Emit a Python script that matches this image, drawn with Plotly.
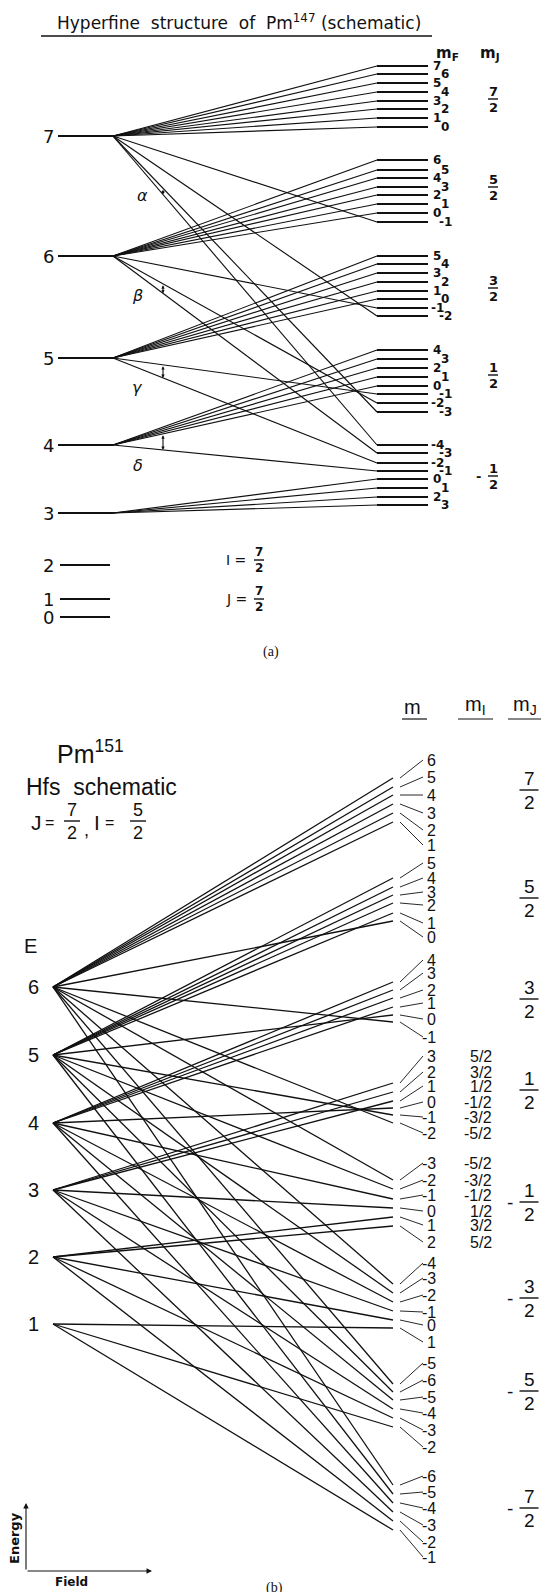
import plotly.graph_objects as go

W, H = 543, 1592
INK = "#111111"
FA = "DejaVu Sans"
FB = "Liberation Sans"
SERIF = "Liberation Serif"

# ---------------- Panel (a): Pm147, I = 7/2, J = 7/2 ----------------
a_F = [7, 6, 5, 4, 3, 2, 1, 0]
a_F_level = [136, 256, 358, 445, 513, 565, 599, 617]          # zero-field levels
a_mJ = ["7/2", "5/2", "3/2", "1/2", "-1/2"]
a_mJ_bar = [99, 187, 288, 375, 476]
a_mF = [[7, 6, 5, 4, 3, 2, 1, 0],
        [6, 5, 4, 3, 2, 1, 0, -1],
        [5, 4, 3, 2, 1, 0, -1, -2],
        [4, 3, 2, 1, 0, -1, -2, -3],
        [-4, -3, -2, -1, 0, 1, 2, 3]]
a_level = [[66, 74, 83, 92, 101, 109, 118, 127],
           [160, 170, 178, 187, 195, 204, 213, 222],
           [256, 264, 273, 282, 291, 299, 308, 316],
           [350, 359, 368, 377, 386, 394, 403, 412],
           [445, 453, 463, 471, 479, 488, 497, 505]]
a_src = [[7, 7, 7, 7, 7, 7, 7, 7],
         [6, 6, 6, 6, 6, 6, 6, 7],
         [5, 5, 5, 5, 5, 5, 6, 7],
         [4, 4, 4, 4, 4, 5, 6, 7],
         [7, 6, 5, 4, 3, 3, 3, 3]]
# separation arrows: (label, F, (group, idx), (group, idx))
a_gaps = [("α", 7, (3, 7), (4, 0)),
          ("β", 6, (3, 6), (4, 1)),
          ("γ", 5, (3, 5), (4, 2)),
          ("δ", 4, (3, 4), (4, 3))]
a_gap_label_pos = [(142, 195), (137, 295), (137, 387), (138, 465)]

# ---------------- Panel (b): Pm151, J = 7/2, I = 5/2 ----------------
b_F = [6, 5, 4, 3, 2, 1]
b_F_level = [987, 1055, 1123, 1190, 1257, 1324]
b_mJ = ["7/2", "5/2", "3/2", "1/2", "-1/2", "-3/2", "-5/2", "-7/2"]
b_mJ_bar = [790, 898, 999, 1090, 1202, 1298, 1391, 1508]
b_m = [["6", "5", "4", "3", "2", "1"],
       ["5", "4", "3", "2", "1", "0"],
       ["4", "3", "2", "1", "0", "-1"],
       ["3", "2", "1", "0", "-1", "-2"],
       ["-3", "-2", "-1", "0", "1", "2"],
       ["-4", "-3", "-2", "-1", "0", "1"],
       ["-5", "-6", "-5", "-4", "-3", "-2"],
       ["-6", "-5", "-4", "-3", "-2", "-1"]]
b_mI = {3: ["5/2", "3/2", "1/2", "-1/2", "-3/2", "-5/2"],
        4: ["-5/2", "-3/2", "-1/2", "1/2", "3/2", "5/2"]}
b_level = [[778, 787, 795, 804, 813, 822],
           [878, 887, 895, 903, 913, 921],
           [982, 990, 998, 1007, 1015, 1022],
           [1083, 1092, 1101, 1108, 1115, 1123],
           [1180, 1189, 1199, 1208, 1217, 1226],
           [1284, 1293, 1302, 1311, 1320, 1328],
           [1384, 1392, 1400, 1409, 1418, 1427],
           [1485, 1494, 1503, 1512, 1521, 1530]]
b_label_y = [[760, 777, 795, 813, 830, 845],
             [863, 878, 892, 905, 923, 937],
             [960, 973, 990, 1003, 1019, 1037],
             [1056, 1072, 1086, 1102, 1117, 1133],
             [1163, 1180, 1195, 1211, 1225, 1242],
             [1263, 1278, 1295, 1312, 1325, 1342],
             [1363, 1380, 1397, 1413, 1430, 1447],
             [1476, 1492, 1508, 1525, 1542, 1557]]
b_src = [[6, 6, 6, 6, 6, 6],
         [5, 5, 5, 5, 5, 6],
         [4, 4, 4, 4, 5, 6],
         [3, 3, 3, 4, 5, 6],
         [6, 5, 4, 3, 2, 2],
         [6, 5, 4, 3, 2, 1],
         [6, 5, 4, 3, 2, 1],
         [6, 5, 4, 3, 2, 1]]

# ---------------- layout constants ----------------
A_XLAB, A_X0, A_XV, A_XR, A_XE, A_XSTUB = 48, 58, 113, 377, 428, 110
B_XLAB, B_XV, B_XR, B_XT0, B_XT1, B_XLBL, B_XMI, B_XMJ = 33, 53, 393, 400, 423, 438, 494, 529

fig = go.Figure()
ann = []
shapes = []


def lines(xs, ys, w):
    fig.add_trace(go.Scatter(x=xs, y=ys, mode="lines",
                             line=dict(color=INK, width=w),
                             hoverinfo="skip", showlegend=False))


def txt(x, y, s, size, family=FA, xanchor="center", yanchor="middle", angle=0, weight=None):
    f = dict(size=size, family=family, color=INK)
    if weight:
        f["weight"] = weight
    ann.append(dict(x=x, y=y, xref="x", yref="y", text=s, showarrow=False,
                    xanchor=xanchor, yanchor=yanchor, textangle=angle, font=f))


def hline(x0, x1, y, w=1.2):
    shapes.append(dict(type="line", xref="x", yref="y", x0=x0, x1=x1, y0=y, y1=y,
                       line=dict(color=INK, width=w)))


def frac(x, y, s, size, bw, dn, dd, family=FA, sign_dx=None, weight=None):
    neg = s.startswith("-")
    num, den = s.lstrip("-").split("/")
    txt(x, y - dn, num, size, family, weight=weight)
    txt(x, y + dd, den, size, family, weight=weight)
    hline(x - bw / 2, x + bw / 2, y, 1.4)
    if neg:
        txt(x - sign_dx, y, "-", size, family, weight=weight)


# ===== Panel (a) =====
txt(239, 22, "Hyperfine  structure  of  Pm<sup>147</sup> (schematic)", 17)
hline(41, 432, 36, 1.6)
txt(447, 53, "m<sub>F</sub>", 15, weight=600)
txt(490, 53, "m<sub>J</sub>", 15, weight=600)

fx = {}
for F, y in zip(a_F, a_F_level):
    fx[F] = y
    txt(A_XLAB, y, str(F), 18)
    xe = A_XV if F >= 3 else A_XSTUB
    hline(A_X0 if F >= 3 else 60, xe, y, 2.0)

sx, sy = [], []
for g, (levels, srcs) in enumerate(zip(a_level, a_src)):
    for i, (yl, F) in enumerate(zip(levels, srcs)):
        sx += [A_XV, A_XR, None]
        sy += [fx[F], yl, None]
        hline(A_XR, A_XE, yl, 2.0)
        xc = 437 if i % 2 == 0 else 445
        txt(xc, yl, str(a_mF[g][i]), 12, weight=600)
lines(sx, sy, 1.15)

for g, s in enumerate(a_mJ):
    frac(493, a_mJ_bar[g], s, 13, 10, 8, 8, sign_dx=15, weight=600)

# separation arrows
XA = 163
for (lab, F, p, q), (lx, ly) in zip(a_gaps, a_gap_label_pos):
    def yat(pp):
        g, i = pp
        y1 = a_level[g][i]
        return fx[F] + (XA - A_XV) / (A_XR - A_XV) * (y1 - fx[F])
    y1, y2 = yat(p), yat(q)
    ann.append(dict(x=XA, y=y2, ax=XA, ay=y1, xref="x", yref="y", axref="x", ayref="y",
                    text="", showarrow=True, arrowhead=2, startarrowhead=2,
                    arrowside="end+start", arrowsize=0.6, startarrowsize=0.6,
                    arrowwidth=1.1, arrowcolor=INK, standoff=0, startstandoff=0))
    txt(lx, ly, "<i>" + lab + "</i>", 16)

txt(236, 560, "I =", 14)
frac(259, 560, "7/2", 12, 10, 8, 8, weight=600)
txt(236, 599, "J =", 14)
frac(259, 599, "7/2", 12, 10, 8, 8, weight=600)
txt(271, 652, "(a)", 14, family=SERIF)

# ===== Panel (b) =====
txt(90, 752, "Pm<sup>151</sup>", 25, family=FB)
txt(101, 787, "Hfs  schematic", 23, family=FB)
txt(36, 822, "J", 21, family=FB)
txt(49, 822, "=", 16, family=FB)
frac(72, 821, "7/2", 18, 16, 11, 12, family=FB)
txt(86, 830, ",", 18, family=FB)
txt(97, 822, "I", 21, family=FB)
txt(109, 822, "=", 16, family=FB)
frac(138, 821, "5/2", 18, 16, 11, 12, family=FB)

txt(412, 707, "m", 20, family=FB)
hline(402, 427, 719, 1.2)
txt(475, 705, "m<sub>I</sub>", 20, family=FB)
hline(458, 493, 719, 1.2)
txt(525, 705, "m<sub>J</sub>", 20, family=FB)
hline(508, 541, 719, 1.2)

txt(30, 946, "E", 20, family=FB)
bfx = {}
for F, y in zip(b_F, b_F_level):
    bfx[F] = y
    txt(B_XLAB, y, str(F), 20, family=FB)

mx, my, tx, ty = [], [], [], []
for g, (levels, srcs) in enumerate(zip(b_level, b_src)):
    for i, (yl, F) in enumerate(zip(levels, srcs)):
        mx += [B_XV, B_XR, None]
        my += [bfx[F], yl, None]
        yt = b_label_y[g][i]
        tx += [B_XT0, B_XT1, None]
        ty += [yl, yt, None]
        txt(B_XLBL, yt, b_m[g][i], 16, family=FB, xanchor="right")
        if g in b_mI:
            txt(B_XMI, yt, b_mI[g][i], 16, family=FB, xanchor="right")
lines(mx, my, 1.3)
lines(tx, ty, 0.9)

for g, s in enumerate(b_mJ):
    frac(B_XMJ, b_mJ_bar[g], s, 19, 19, 12, 12, family=FB, sign_dx=19)

# energy / field axes sketch
ann.append(dict(x=26, y=1503, ax=26, ay=1571, xref="x", yref="y", axref="x", ayref="y",
                text="", showarrow=True, arrowhead=2, arrowsize=1, arrowwidth=1.1,
                arrowcolor=INK, standoff=0))
ann.append(dict(x=152, y=1571, ax=26, ay=1571, xref="x", yref="y", axref="x", ayref="y",
                text="", showarrow=True, arrowhead=2, arrowsize=1, arrowwidth=1.1,
                arrowcolor=INK, standoff=0))
txt(14, 1538, "Energy", 13, angle=-90, weight=600)
txt(71, 1582, "Field", 12, weight=600)
txt(274, 1588, "(b)", 14, family=SERIF)

fig.update_layout(
    width=W, height=H, margin=dict(l=0, r=0, t=0, b=0),
    paper_bgcolor="white", plot_bgcolor="white",
    xaxis=dict(range=[0, W], visible=False, fixedrange=True),
    yaxis=dict(range=[H, 0], visible=False, fixedrange=True),
    annotations=ann, shapes=shapes, showlegend=False,
)
fig.write_html("out.html", config={"displayModeBar": False},
               post_script="document.body.style.margin='0';document.body.style.overflow='hidden';")
